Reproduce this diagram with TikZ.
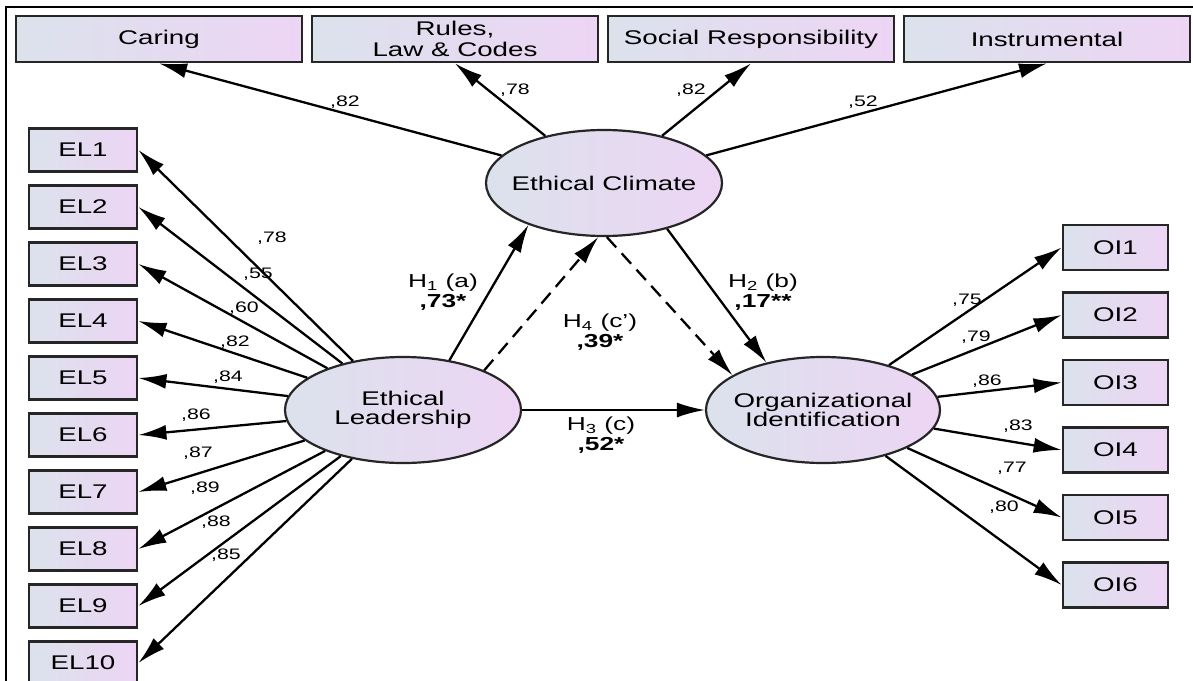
\documentclass[tikz,border=0pt]{standalone}
\usepackage{fontspec}
\setmainfont{Liberation Sans}[FakeStretch=1.4]
\usetikzlibrary{shapes.geometric,arrows.meta,positioning}
\definecolor{shadel}{RGB}{219,226,236}
\definecolor{shader}{RGB}{237,213,244}

\begin{document}
\begin{tikzpicture}[x=0.5pt, y=-0.5pt, on grid,
  obs/.style={draw=black!85, line width=1.4pt, left color=shadel, right color=shader,
    inner sep=0pt, font=\fontsize{9.9}{10.5}\selectfont},
  dimbox/.style={obs, minimum width=143pt, minimum height=23pt, align=center},
  elbox/.style={obs, minimum width=54pt, minimum height=21.5pt},
  oibox/.style={obs, minimum width=52.5pt, minimum height=22.5pt},
  latent/.style={ellipse, draw=black!85, line width=1.1pt, left color=shadel,
    right color=shader, minimum width=118pt, minimum height=53pt, inner xsep=-10pt,
    inner ysep=0pt, align=center, font=\fontsize{9.9}{9.6}\selectfont},
  reg/.style={-{Latex[length=14pt,width=7.5pt]}, line width=1.15pt},
  med/.style={reg, dash pattern=on 7pt off 4pt},
  est/.style={font=\fontsize{7.6}{8}\selectfont, inner sep=0pt},
  hyp/.style={align=center, font=\fontsize{9.4}{10.2}\selectfont, inner sep=0pt}]
\useasboundingbox (0,0) rectangle (1193,680);
\clip (0,0) rectangle (1193,680);
\draw[line width=1.3pt] (6,700) |- (1200,7);

% latent variables
\node [latent] (ec) at (604,183) {Ethical Climate};
\node [latent] (el) at (403,410) {Ethical\\Leadership};
\node [latent, minimum width=117pt] (oi) at (823,410) {Organizational\\Identification};

% climate dimensions
\node [dimbox] (caring) at (159,39) {Caring};
\node [dimbox] (rules) [right=148pt of caring] {Rules,\\Law \& Codes};
\node [dimbox] (social) [right=148pt of rules] {Social Responsibility};
\node [dimbox] (instr) [right=148pt of social] {Instrumental};

% leadership items
\node [elbox] (el1) at (83,150) {EL1};
\node [elbox] (el2) [below=28.5pt of el1] {EL2};
\node [elbox] (el3) [below=28.5pt of el2] {EL3};
\node [elbox] (el4) [below=28.5pt of el3] {EL4};
\node [elbox] (el5) [below=28.5pt of el4] {EL5};
\node [elbox] (el6) [below=28.5pt of el5] {EL6};
\node [elbox] (el7) [below=28.5pt of el6] {EL7};
\node [elbox] (el8) [below=28.5pt of el7] {EL8};
\node [elbox] (el9) [below=28.5pt of el8] {EL9};
\node [elbox] (el10) [below=28.5pt of el9] {EL10};

% identification items
\node [oibox] (oi1) at (1115.5,247.5) {OI1};
\node [oibox] (oi2) [below=33.75pt of oi1] {OI2};
\node [oibox] (oi3) [below=33.75pt of oi2] {OI3};
\node [oibox] (oi4) [below=33.75pt of oi3] {OI4};
\node [oibox] (oi5) [below=33.75pt of oi4] {OI5};
\node [oibox] (oi6) [below=33.75pt of oi5] {OI6};

\path [reg]
(ec) edge (caring.south)
     edge (rules.south)
     edge (social.south)
     edge (instr.south)
(el) edge (el1.east)
     edge (el2.east)
     edge (el3.east)
     edge (el4.east)
     edge (el5.east)
     edge (el6.east)
     edge (el7.east)
     edge (el8.east)
     edge (el9.east)
     edge (el10.east)
(oi) edge (oi1.west)
     edge (oi2.west)
     edge (oi3.west)
     edge (oi4.west)
     edge (oi5.west)
     edge (oi6.west)
(el.47) edge (ec.209)
(ec.324) edge (oi.140)
(el) edge (oi);
\path [med]
(el.26) edge (ec.264)
(ec.273) edge (oi.159);

% loadings
\node [est] (w_car) at (345,102) {,82};
\node [est] (w_rul) at (515,90) {,78};
\node [est] (w_soc) at (691,90) {,82};
\node [est] (w_ins) at (863,102) {,52};
\node [est] (w_el1) at (272,238) {,78};
\node [est] (w_el2) at (258,274) {,55};
\node [est] (w_el3) at (244,308) {,60};
\node [est] (w_el4) at (235,342) {,82};
\node [est] (w_el5) at (228,377) {,84};
\node [est] (w_el6) at (196,415) {,86};
\node [est] (w_el7) at (198,453) {,87};
\node [est] (w_el8) at (205,488) {,89};
\node [est] (w_el9) at (216,522) {,88};
\node [est] (w_el10) at (226,555) {,85};
\node [est] (w_oi1) at (967,300) {,75};
\node [est] (w_oi2) at (976,337) {,79};
\node [est] (w_oi3) at (987,381) {,86};
\node [est] (w_oi4) at (1018,426) {,83};
\node [est] (w_oi5) at (1012,468) {,77};
\node [est] (w_oi6) at (1004,507) {,80};

% hypotheses
\node [hyp] (h1) at (443,292) {H\textsubscript{1}\ (a)\\\textbf{,73*}};
\node [hyp] (h2) at (763,292) {H\textsubscript{2}\ (b)\\\textbf{,17**}};
\node [hyp] (h3) at (601,435) {H\textsubscript{3}\ (c)\\\textbf{,52*}};
\node [hyp] (h4) at (600,332) {H\textsubscript{4}\ (c')\\\textbf{,39*}};
\end{tikzpicture}
\end{document}
